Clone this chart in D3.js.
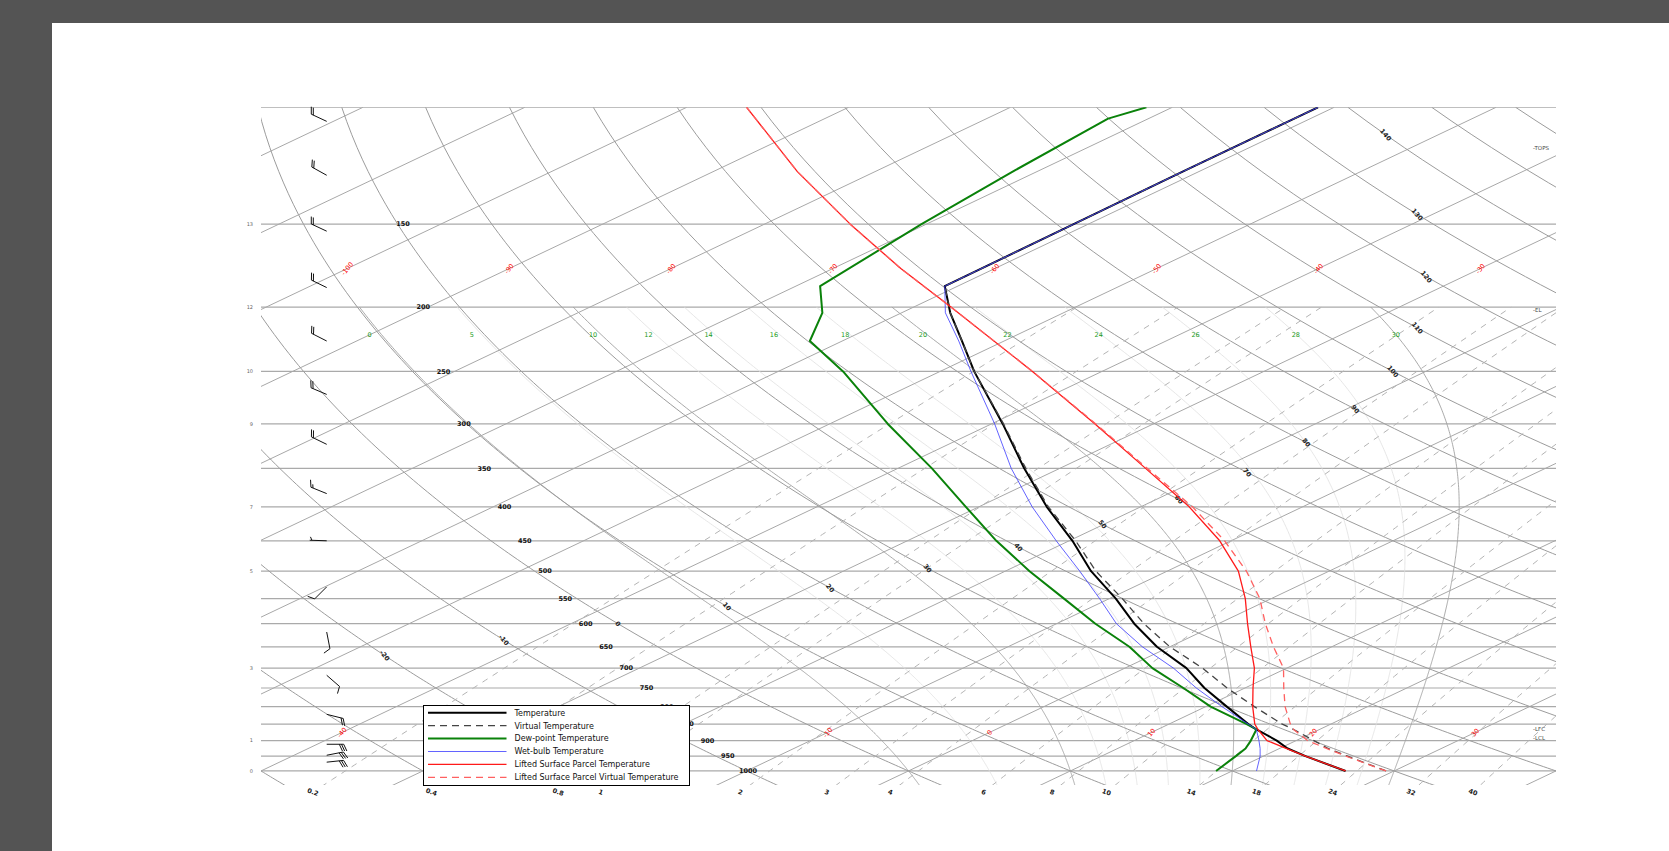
<!DOCTYPE html>
<html>
<head>
<meta charset="utf-8">
<script src="https://cdn.jsdelivr.net/npm/d3@7"></script>
<style>
  body { margin: 0; background: #545454; overflow: hidden; }
  text { font-family: "DejaVu Sans", sans-serif; }
</style>
</head>
<body>
<script>
// ---- sounding data ----
const levels = [1000, 950, 925, 900, 866, 850, 800, 750, 700, 650, 600, 550, 500, 450, 400, 350, 300, 250, 225, 204, 186, 150, 125, 104, 100];
const temperature = [27.0, 22.6, 20.5, 18.8, 16.1, 14.9, 11.3, 7.5, 3.8, -0.8, -5.2, -9.6, -14.7, -19.8, -25.8, -32.2, -39.3, -47.9, -52.6, -57.0, -60.8, -60.9, -61.0, -61.0, -61.0];
const virtualTemp = [29.5, 25.2, 23.0, 21.1, 18.4, 17.0, 13.0, 8.9, 4.8, 0.0, -4.6, -9.2, -14.4, -19.6, -25.7, -32.1, -39.25, -47.9, -52.6, -57.0, -60.8, -60.9, -61.0, -61.0, -61.0];
const dewpoint = [19.0, 18.3, 17.9, 17.2, 16.1, 14.8, 10.3, 6.2, 1.7, -2.5, -7.6, -12.8, -18.5, -24.5, -30.8, -37.9, -46.4, -56.0, -62.0, -64.9, -68.5, -70.3, -71.5, -72.5, -71.6];
const wetbulb = [21.5, 19.8, 18.8, 17.7, 16.1, 14.9, 11.0, 7.0, 3.0, -1.7, -6.3, -10.6, -15.4, -20.8, -26.7, -33.0, -39.8, -48.1, -52.8, -57.3, -60.8, -60.9, -61.0, -61.0, -61.0];

const parcelLevels = [1000, 950, 925, 900, 866, 850, 800, 750, 700, 650, 600, 550, 500, 450, 400, 350, 300, 250, 200, 175, 150, 125, 100];
const parcelTemp = [27.0, 22.6, 20.4, 18.2, 16.2, 15.3, 12.9, 10.5, 8.0, 5.0, 1.8, -1.6, -5.6, -10.7, -17.0, -24.7, -33.6, -44.3, -57.7, -65.8, -74.7, -84.8, -96.3];
const parcelVirtual = [29.5, 25.1, 22.9, 20.7, 18.4, 17.5, 14.9, 12.4, 9.8, 6.4, 2.9, -0.7, -5.1, -10.4, -16.8, -24.6, -33.55, -44.3, -57.7, -65.8, -74.7, -84.8, -96.3];

// wind barbs
const windP = [105, 126.6, 153.7, 186.9, 225, 270.8, 322, 382, 450, 528, 617.6, 717.5, 821.7, 911.6, 947, 970];
const windDir = [295, 299, 295, 296, 297, 293, 296, 292, 272, 225, 169, 131, 104, 90, 79, 84];
const windKt = [20, 20, 20, 20, 20, 20, 20, 15, 5, 10, 10, 10, 20, 30, 30, 30];

// grid / label values
const isobars = d3.range(100, 1001, 50);
const pressureLabels = d3.range(150, 1001, 50);
const heightKm = [13, 12, 10, 9, 7, 5, 3, 1, 0];
const heightP = [150, 200, 250, 300, 400, 500, 700, 900, 1000];
const isotherms = d3.range(-160, 61, 10);
const dryAdiabats = d3.range(-60, 211, 10);
const thetaLabels = d3.range(-20, 141, 10);
const moistAdiabats = [0, 5, 10, 12, 14, 16, 18, 20, 22, 24, 26, 28, 30];
const moistMajor = [0, 10, 20, 30];
const mixingRatios = [0.2, 0.4, 0.8, 1, 2, 3, 4, 6, 8, 10, 14, 18, 24, 32, 40];
const levelNames = ["TOPS", "EL", "LFC", "LCL"];
const levelP = [115, 202, 865.6, 893.7];

const legendItems = [
  { name: "Temperature", color: "#000", width: 2, dash: null },
  { name: "Virtual Temperature", color: "#444", width: 1.3, dash: "7,5" },
  { name: "Dew-point Temperature", color: "#0a820a", width: 2, dash: null },
  { name: "Wet-bulb Temperature", color: "#3b3bff", width: 0.8, dash: null },
  { name: "Lifted Surface Parcel Temperature", color: "#ff1a1a", width: 1.3, dash: null },
  { name: "Lifted Surface Parcel Virtual Temperature", color: "#ff6060", width: 1.3, dash: "7,5" },
];

// ---- page ----
const W = 1669, H = 851;
const svg = d3.select("body").append("svg").attr("width", W).attr("height", H);
svg.append("rect").attr("width", W).attr("height", H).attr("fill", "#545454");
svg.append("rect").attr("x", 52).attr("y", 23).attr("width", W - 52).attr("height", H - 23).attr("fill", "#fff");

const box = { left: 261, right: 1556, top: 107.3, bottom: 785 };
const x = d3.scaleLinear().domain([-40, 40]).range([box.left, box.right]);
const y = d3.scaleLog().domain([1050, 100]).range([box.bottom, box.top]);
const skew = 2.105;
function sx(t, p) { return x(t) + skew * (y(1000) - y(p)); }

svg.append("clipPath").attr("id", "plotclip").append("rect")
  .attr("x", box.left).attr("y", box.top)
  .attr("width", box.right - box.left).attr("height", box.bottom - box.top);

const grid = svg.append("g").attr("clip-path", "url(#plotclip)");
const line = d3.line().x(d => sx(d[1], d[0])).y(d => y(d[0]));

// thermodynamics for the background lines
function thetaT(thC, p) { return (thC + 273.15) * Math.pow(p / 1000, 0.2857) - 273.15; }
function es(tc) { return 6.112 * Math.exp(17.67 * tc / (tc + 243.5)); }
function dTdp(p, T) {
  const Rd = 287.04, cp = 1005.7, Lv = 2.501e6, eps = 0.622;
  const e = es(T - 273.15), rs = eps * e / (p - e);
  return ((Rd * T + Lv * rs) / p) / (cp + (Lv * Lv * rs * eps) / (Rd * T * T));
}
function rk(p, T, dp) {
  const k1 = dTdp(p, T), k2 = dTdp(p + dp / 2, T + k1 * dp / 2);
  const k3 = dTdp(p + dp / 2, T + k2 * dp / 2), k4 = dTdp(p + dp, T + k3 * dp);
  return T + dp * (k1 + 2 * k2 + 2 * k3 + k4) / 6;
}
function moist(tw) {
  const up = [[1000, tw]], down = [];
  let T = tw + 273.15, p = 1000;
  while (p > 200) { T = rk(p, T, -2); p -= 2; up.push([p, T - 273.15]); }
  T = tw + 273.15; p = 1000;
  while (p < 1080) { T = rk(p, T, 2); p += 2; down.push([p, T - 273.15]); }
  return down.reverse().concat(up);
}
function mixT(r, p) {
  const e = p * r / (622 + r), l = Math.log(e / 6.112);
  return 243.5 * l / (17.67 - l);
}
const pFine = d3.range(1080, 99, -5);

// isobars
grid.selectAll(".isobar").data(isobars).enter().append("line")
  .attr("x1", box.left).attr("x2", box.right)
  .attr("y1", d => y(d)).attr("y2", d => y(d))
  .attr("stroke", "#aaa").attr("stroke-width", 1.2);

// moist adiabats, 1050 to 200 hPa (minor ones faint)
const moistLines = moistAdiabats.map(tw => moist(tw));
moistAdiabats.forEach((tw, i) => {
  const major = moistMajor.includes(tw);
  grid.append("path").attr("d", line(moistLines[i]))
    .attr("fill", "none")
    .attr("stroke", major ? "#a0a0a0" : "#e0e0e0")
    .attr("stroke-width", major ? 0.9 : 0.8);
});

// isotherms
grid.selectAll(".isotherm").data(isotherms).enter().append("path")
  .attr("d", t => line([[1080, t], [100, t]]))
  .attr("fill", "none").attr("stroke", "#a8a8a8").attr("stroke-width", 1);

// dry adiabats
grid.selectAll(".dry").data(dryAdiabats).enter().append("path")
  .attr("d", th => line(pFine.map(p => [p, thetaT(th, p)])))
  .attr("fill", "none").attr("stroke", "#9c9c9c").attr("stroke-width", 1);

// mixing ratio lines
grid.selectAll(".mix").data(mixingRatios).enter().append("path")
  .attr("d", r => line(d3.range(1080, 199, -10).map(p => [p, mixT(r, p)])))
  .attr("fill", "none").attr("stroke", "#b4b4b4").attr("stroke-width", 1)
  .attr("stroke-dasharray", "6,6");

// ---- labels on the grid ----
const labels = svg.append("g");

// pressure labels
labels.selectAll(".plab").data(pressureLabels).enter().append("text")
  .attr("x", p => 403 + (p - 150) * 0.4059).attr("y", p => y(p))
  .attr("dy", "0.35em").attr("text-anchor", "middle")
  .attr("font-size", 6.5).attr("font-weight", "bold").attr("fill", "#111")
  .text(p => p);

// height labels
labels.selectAll(".hlab").data(heightKm).enter().append("text")
  .attr("x", 253).attr("y", (d, i) => y(heightP[i]))
  .attr("dy", "0.35em").attr("text-anchor", "end")
  .attr("font-size", 5).attr("fill", "#666")
  .text(d => d);

// isotherm labels, two rows
[175, 875].forEach(pl => {
  isotherms.forEach(t => {
    const px = sx(t, pl), py = y(pl);
    if (px < box.left + 5 || px > box.right - 5) return;
    labels.append("text")
      .attr("transform", `translate(${px},${py}) rotate(-50)`)
      .attr("dy", "0.35em").attr("text-anchor", "middle")
      .attr("font-size", 6.5).attr("fill", "#ff0000")
      .text(t);
  });
});

// dry adiabat labels
thetaLabels.forEach(th => {
  const pl = 600 - 3.5 * th;
  const px = sx(thetaT(th, pl), pl), py = y(pl);
  if (px < box.left + 5 || px > box.right - 5 || pl < 100) return;
  labels.append("text")
    .attr("transform", `translate(${px},${py}) rotate(50)`)
    .attr("dy", "0.35em").attr("text-anchor", "middle")
    .attr("font-size", 6.5).attr("font-weight", "bold").attr("fill", "#222")
    .text(th);
});

// moist adiabat labels near their top end
moistAdiabats.forEach((tw, i) => {
  const pt = moistLines[i].reduce((a, b) => Math.abs(b[0] - 220) < Math.abs(a[0] - 220) ? b : a);
  labels.append("text")
    .attr("x", sx(pt[1], pt[0]) - (30 - tw) * 0.4).attr("y", y(220))
    .attr("dy", "0.35em").attr("text-anchor", "middle")
    .attr("font-size", 6.5).attr("fill", "#1a9a1a")
    .text(tw);
});

// mixing ratio labels below the plot
mixingRatios.forEach(r => {
  const pl = 1076;
  labels.append("text")
    .attr("transform", `translate(${sx(mixT(r, pl), pl)},${y(pl)}) rotate(20)`)
    .attr("dy", "0.35em").attr("text-anchor", "middle")
    .attr("font-size", 6.5).attr("font-weight", "bold").attr("fill", "#222")
    .text(r);
});

// parcel level markers on the right
levelNames.forEach((n, i) => {
  labels.append("text")
    .attr("x", 1533).attr("y", y(levelP[i]))
    .attr("dy", "0.35em").attr("font-size", 5.5).attr("fill", "#444")
    .text("-" + n);
});

// ---- sounding curves ----
const curves = svg.append("g").attr("clip-path", "url(#plotclip)");
function drawCurve(ps, ts, item) {
  curves.append("path")
    .attr("d", line(ps.map((p, i) => [p, ts[i]])))
    .attr("fill", "none").attr("stroke", item.color)
    .attr("stroke-width", item.width)
    .attr("stroke-dasharray", item.dash)
    .attr("stroke-linejoin", "round");
}
drawCurve(levels, temperature, legendItems[0]);
drawCurve(levels, virtualTemp, legendItems[1]);
drawCurve(levels, dewpoint, legendItems[2]);
drawCurve(levels, wetbulb, legendItems[3]);
drawCurve(parcelLevels, parcelTemp, legendItems[4]);
drawCurve(parcelLevels, parcelVirtual, legendItems[5]);

// ---- wind barbs ----
const barbs = svg.append("g").attr("stroke", "#111").attr("stroke-width", 1).attr("fill", "none");
const pivotX = 326.7, shaft = 17;
windP.forEach((p, i) => {
  const a = windDir[i] * Math.PI / 180;
  const dx = Math.sin(a), dy = -Math.cos(a);          // toward where the wind comes from
  const nx = -dy, ny = dx;                            // feather side
  const px = pivotX, py = y(p);
  const tx = px + dx * shaft, ty = py + dy * shaft;
  let path = `M${px},${py}L${tx},${ty}`;
  const spd = Math.round(windKt[i] / 5) * 5;
  const full = Math.floor(spd / 10), half = (spd % 10) >= 5 ? 1 : 0;
  const fl = 7.5, gap = 2.2, lean = 0.42;
  let s = 0;
  if (full === 0 && half) s = gap;
  for (let k = 0; k < full + half; k++) {
    const len = k < full ? fl : fl / 2;
    const bx = tx - dx * s, by = ty - dy * s;
    path += `M${bx},${by}L${bx + len * (nx * 0.9 + dx * lean)},${by + len * (ny * 0.9 + dy * lean)}`;
    s += gap;
  }
  barbs.append("path").attr("d", path);
});

// ---- legend ----
const lg = svg.append("g").attr("transform", "translate(423.5,705.5)");
lg.append("rect").attr("width", 266).attr("height", 80)
  .attr("fill", "#fff").attr("stroke", "#000").attr("stroke-width", 1);
legendItems.forEach((it, i) => {
  const yy = 7.3 + i * 12.9;
  lg.append("line").attr("x1", 4.5).attr("x2", 83).attr("y1", yy).attr("y2", yy)
    .attr("stroke", it.color).attr("stroke-width", it.width)
    .attr("stroke-dasharray", it.dash);
  lg.append("text").attr("x", 91).attr("y", yy).attr("dy", "0.35em")
    .attr("font-size", 8).attr("fill", "#111").text(it.name);
});
</script>
</body>
</html>
